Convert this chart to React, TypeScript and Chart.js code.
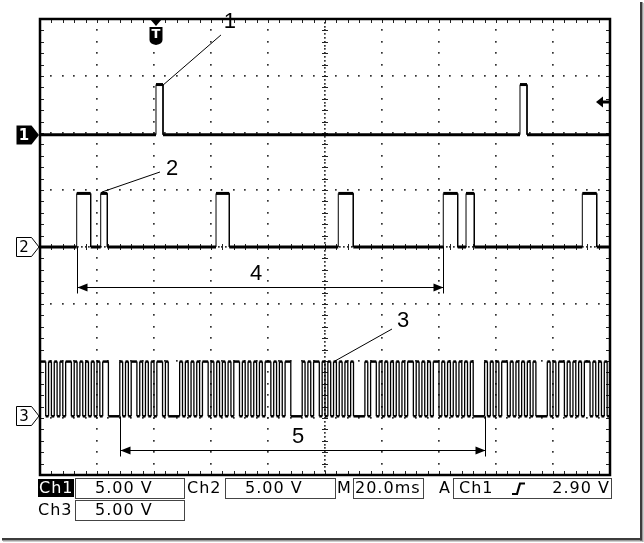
import React, { useEffect, useRef } from "react";
import { Chart, registerables } from "chart.js";

Chart.register(...registerables);

// Screen: 10 horizontal divisions (20.0 ms/div), 8 vertical divisions (5.00 V/div)
const xDivisions = 10;
const yDivisions = 8;

// Channel 1: edge times (divisions), [low, high] levels (divisions)
const ch1Edges = [2.035, 2.158, 8.421, 8.544];
const ch1Levels = [5.97, 6.85];

// Channel 2
const ch2Edges = [0.644, 0.889, 1.065, 1.181, 3.088, 3.321, 5.233, 5.496, 7.075, 7.328, 7.474, 7.619, 9.514, 9.767];
const ch2Levels = [4.0, 4.94];

// Channel 3: logic samples, one per 0.05 division (1 ms)
const ch3SampleStep = 0.05;
const ch3Bursts = [
  "110101010110101010101011", "0000",
  "10101101010101101", "0000",
  "101010101101010101011010101010110101011", "0000",
  "101011010101010101", "0000",
  "10110101010101011010101011010101010101", "0000",
  "101010110101010101", "0000",
  "1010110101010110101010",
];
const ch3Levels = [1.03, 1.99];

// Readouts
const ch1Scale = "5.00 V";
const ch2Scale = "5.00 V";
const ch3Scale = "5.00 V";
const timeScale = "20.0ms";
const trigSource = "Ch1";
const trigLevelText = "2.90 V";
const trigLevelVolts = 2.9;
const voltsPerDiv = 5;

// Annotation numbers (positions in divisions)
const annoLabels = ["1", "2", "3", "4", "5"];
const annoX = [3.33, 2.32, 6.37, 3.79, 4.53];
const annoY = [7.95, 5.37, 2.70, 3.53, 0.67];
const leaderFromX = [3.175, 2.105, 6.175];
const leaderFromY = [7.72, 5.316, 2.561];
const leaderToX = [2.158, 1.088, 5.175];
const leaderToY = [6.84, 4.965, 2.0];

// Measured spans
const span4 = [0.644, 7.075];
const span4Y = 3.3;
const span5 = [1.4, 7.8];
const span5Y = 0.44;

function stepSeries(edges: number[], levels: number[], startState = 0) {
  let s = startState;
  const pts: { x: number; y: number }[] = [{ x: 0, y: levels[s] }];
  for (const e of edges) {
    pts.push({ x: e, y: levels[s] });
    s ^= 1;
    pts.push({ x: e, y: levels[s] });
  }
  pts.push({ x: xDivisions, y: levels[s] });
  return pts;
}

function samplesToEdges(samples: string, step: number) {
  const edges: number[] = [];
  for (let i = 1; i < samples.length; i++) {
    if (samples[i] !== samples[i - 1]) edges.push(+(i * step).toFixed(4));
  }
  return edges;
}

const ch3Samples = ch3Bursts.join("");
const ch3Edges = samplesToEdges(ch3Samples, ch3SampleStep);
const ch3Start = ch3Samples[0] === "1" ? 1 : 0;

const FONT = "'DejaVu Sans', 'Liberation Sans', sans-serif";

const overlay = {
  id: "scopeOverlay",
  beforeDatasetsDraw(chart: any) {
    const { ctx, chartArea: a } = chart;
    const xs = chart.scales.x;
    const ys = chart.scales.y;
    const X = (v: number) => xs.getPixelForValue(v);
    const Y = (v: number) => ys.getPixelForValue(v);
    const minor = 0.2;
    ctx.save();
    ctx.fillStyle = "#333";
    const dot = (x: number, y: number) => ctx.fillRect(Math.round(x) - 1, Math.round(y) - 1, 1.7, 1.7);
    for (let i = 1; i < xDivisions; i++) {
      if (i === xDivisions / 2) continue;
      for (let j = 1; j < yDivisions / minor; j++) dot(X(i), Y(j * minor));
    }
    for (let j = 1; j < yDivisions; j++) {
      if (j === yDivisions / 2) continue;
      for (let i = 1; i < xDivisions / minor; i++) dot(X(i * minor), Y(j));
    }
    const cx = X(xDivisions / 2);
    const cy = Y(yDivisions / 2);
    for (let k = 1; k < (yDivisions / minor) * 3; k++) dot(cx, Y((k * minor) / 3));
    for (let k = 1; k < (xDivisions / minor) * 3; k++) dot(X((k * minor) / 3), cy);
    ctx.strokeStyle = "#222";
    ctx.lineWidth = 1;
    ctx.beginPath();
    for (let j = 1; j < yDivisions / minor; j++) {
      const y = Math.round(Y(j * minor)) + 0.5;
      ctx.moveTo(cx - 3, y);
      ctx.lineTo(cx + 3, y);
    }
    for (let i = 1; i < xDivisions / minor; i++) {
      const x = Math.round(X(i * minor)) + 0.5;
      ctx.moveTo(x, cy - 3);
      ctx.lineTo(x, cy + 3);
    }
    for (let j = 1; j < yDivisions / minor; j++) {
      const y = Math.round(Y(j * minor)) + 0.5;
      ctx.moveTo(a.left, y);
      ctx.lineTo(a.left + 4, y);
      ctx.moveTo(a.right - 4, y);
      ctx.lineTo(a.right, y);
    }
    for (let i = 1; i < xDivisions / minor; i++) {
      const x = Math.round(X(i * minor)) + 0.5;
      ctx.moveTo(x, a.top);
      ctx.lineTo(x, a.top + 4);
      ctx.moveTo(x, a.bottom - 4);
      ctx.lineTo(x, a.bottom);
    }
    ctx.stroke();
    ctx.restore();
  },
  afterDatasetsDraw(chart: any) {
    const { ctx, chartArea: a } = chart;
    const xs = chart.scales.x;
    const ys = chart.scales.y;
    const X = (v: number) => xs.getPixelForValue(v);
    const Y = (v: number) => ys.getPixelForValue(v);
    ctx.save();

    // frame
    ctx.strokeStyle = "#000";
    ctx.lineWidth = 2.5;
    ctx.strokeRect(a.left, a.top, a.right - a.left, a.bottom - a.top);

    // channel ground markers
    const marker = (label: string, yv: number, filled: boolean) => {
      const y = Math.round(Y(yv));
      ctx.beginPath();
      ctx.moveTo(16.5, y - 9.5);
      ctx.lineTo(31.5, y - 9.5);
      ctx.lineTo(a.left - 1, y);
      ctx.lineTo(31.5, y + 9.5);
      ctx.lineTo(16.5, y + 9.5);
      ctx.closePath();
      if (filled) {
        ctx.fillStyle = "#000";
        ctx.fill();
      } else {
        ctx.fillStyle = "#fff";
        ctx.fill();
        ctx.lineWidth = 1;
        ctx.strokeStyle = "#000";
        ctx.stroke();
      }
      ctx.fillStyle = filled ? "#fff" : "#000";
      ctx.font = `${filled ? "bold " : ""}15px ${FONT}`;
      ctx.textAlign = "center";
      ctx.textBaseline = "middle";
      ctx.fillText(label, 24, y + 1);
    };
    marker("1", ch1Levels[0], true);
    marker("2", ch2Levels[0], false);
    marker("3", ch3Levels[0], false);

    // trigger position marker
    const tx = Math.round(X(ch1Edges[0]));
    ctx.fillStyle = "#000";
    ctx.beginPath();
    ctx.moveTo(tx - 6, a.top);
    ctx.lineTo(tx + 6, a.top);
    ctx.lineTo(tx, a.top + 7);
    ctx.closePath();
    ctx.fill();
    ctx.beginPath();
    ctx.moveTo(tx - 6.5, a.top + 8);
    ctx.lineTo(tx + 6.5, a.top + 8);
    ctx.lineTo(tx + 6.5, a.top + 21);
    ctx.quadraticCurveTo(tx + 6.5, a.top + 25, tx, a.top + 26);
    ctx.quadraticCurveTo(tx - 6.5, a.top + 25, tx - 6.5, a.top + 21);
    ctx.closePath();
    ctx.fill();
    ctx.fillStyle = "#fff";
    ctx.font = `bold 13px ${FONT}`;
    ctx.textAlign = "center";
    ctx.textBaseline = "middle";
    ctx.fillText("T", tx, a.top + 16);

    // trigger level marker
    const ly = Math.round(Y(ch1Levels[0] + trigLevelVolts / voltsPerDiv));
    ctx.fillStyle = "#000";
    ctx.beginPath();
    ctx.moveTo(a.right - 14, ly);
    ctx.lineTo(a.right - 7, ly - 5.5);
    ctx.lineTo(a.right - 7, ly + 5.5);
    ctx.closePath();
    ctx.fill();
    ctx.fillRect(a.right - 8, ly - 1.5, 8, 3);

    // leaders
    ctx.strokeStyle = "#000";
    ctx.lineWidth = 1;
    ctx.beginPath();
    for (let i = 0; i < leaderFromX.length; i++) {
      ctx.moveTo(X(leaderFromX[i]), Y(leaderFromY[i]));
      ctx.lineTo(X(leaderToX[i]), Y(leaderToY[i]));
    }
    ctx.stroke();

    // span arrows
    const span = (x0: number, x1: number, yv: number, base: number) => {
      const p0 = Math.round(X(x0)) + 0.5;
      const p1 = Math.round(X(x1)) + 0.5;
      const y = Math.round(Y(yv)) + 0.5;
      ctx.beginPath();
      ctx.moveTo(p0, Y(base));
      ctx.lineTo(p0, y + 6);
      ctx.moveTo(p1, Y(base));
      ctx.lineTo(p1, y + 6);
      ctx.moveTo(p0, y);
      ctx.lineTo(p1, y);
      ctx.stroke();
      ctx.beginPath();
      ctx.moveTo(p0, y);
      ctx.lineTo(p0 + 10, y - 4);
      ctx.lineTo(p0 + 10, y + 4);
      ctx.closePath();
      ctx.moveTo(p1, y);
      ctx.lineTo(p1 - 10, y - 4);
      ctx.lineTo(p1 - 10, y + 4);
      ctx.closePath();
      ctx.fill();
    };
    span(span4[0], span4[1], span4Y, ch2Levels[0]);
    span(span5[0], span5[1], span5Y, ch3Levels[0]);

    // annotation numbers
    ctx.fillStyle = "#000";
    ctx.font = `22px 'Liberation Sans', Arial, sans-serif`;
    ctx.textAlign = "center";
    ctx.textBaseline = "middle";
    for (let i = 0; i < annoLabels.length; i++) {
      ctx.fillText(annoLabels[i], X(annoX[i]), Y(annoY[i]));
    }

    // status bar
    ctx.font = `16px ${FONT}`;
    (ctx as any).letterSpacing = "1px";
    ctx.textAlign = "left";
    ctx.textBaseline = "middle";
    const r1 = 488.5;
    const r2 = 511;
    ctx.fillStyle = "#000";
    ctx.fillRect(38, 479, 36, 18);
    ctx.fillStyle = "#fff";
    ctx.fillText("Ch1", 39, r1);
    ctx.fillStyle = "#000";
    ctx.strokeStyle = "#444";
    ctx.lineWidth = 1;
    ctx.strokeRect(75.5, 478.5, 109, 20);
    ctx.fillText(ch1Scale, 95, r1);
    ctx.fillText("Ch2", 187, r1);
    ctx.strokeRect(225.5, 478.5, 110, 20);
    ctx.fillText(ch2Scale, 245, r1);
    ctx.fillText("M", 337, r1);
    ctx.strokeRect(353.5, 478.5, 70, 20);
    ctx.fillText(timeScale, 355, r1);
    ctx.fillText("A", 439, r1);
    ctx.strokeRect(453.5, 478.5, 158, 20);
    ctx.fillText(trigSource, 459, r1);
    ctx.textAlign = "right";
    ctx.fillText(trigLevelText, 610, r1);
    ctx.textAlign = "left";
    ctx.lineWidth = 2.2;
    ctx.strokeStyle = "#000";
    ctx.beginPath();
    ctx.moveTo(512, 494);
    ctx.lineTo(517, 494);
    ctx.lineTo(520, 483.5);
    ctx.lineTo(525, 483.5);
    ctx.stroke();
    ctx.lineWidth = 1;
    ctx.strokeStyle = "#444";
    ctx.fillText("Ch3", 38, r2);
    ctx.strokeRect(75.5, 500.5, 109, 20);
    ctx.fillText(ch3Scale, 95, r2);
    (ctx as any).letterSpacing = "0px";

    // page shadow
    ctx.fillStyle = "#3c3c3c";
    ctx.fillRect(640, 2, 2.5, 539);
    ctx.fillRect(2, 538, 640, 2.5);
    ctx.fillStyle = "#9a9a9a";
    ctx.fillRect(642.5, 3, 1, 539);
    ctx.fillRect(3, 540.5, 640, 1);

    ctx.restore();
  },
};

export default function App() {
  const ref = useRef<HTMLCanvasElement>(null);
  useEffect(() => {
    const canvas = ref.current!;
    const seg = (w: number, v: number) => (c: any) => (Math.abs(c.p0.x - c.p1.x) < 0.01 ? v : w);
    const chart = new Chart(canvas, {
      type: "line",
      data: {
        datasets: [
          { label: "Ch1", data: stepSeries(ch1Edges, ch1Levels), borderColor: "#000", borderWidth: 3, pointRadius: 0, segment: { borderWidth: seg(3, 1) } as any },
          { label: "Ch2", data: stepSeries(ch2Edges, ch2Levels), borderColor: "#000", borderWidth: 3, pointRadius: 0, segment: { borderWidth: seg(3, 1) } as any },
          { label: "Ch3", data: stepSeries(ch3Edges, ch3Levels, ch3Start), borderColor: "#000", borderWidth: 2.5, pointRadius: 0, segment: { borderWidth: seg(2.5, 1.3) } as any },
        ],
      },
      options: {
        animation: false,
        responsive: false,
        devicePixelRatio: 1,
        layout: { padding: { left: 40, top: 19, right: 34, bottom: 68 } },
        scales: {
          x: { type: "linear", min: 0, max: xDivisions, display: false },
          y: { type: "linear", min: 0, max: yDivisions, display: false },
        },
        plugins: { legend: { display: false }, tooltip: { enabled: false } },
        elements: { point: { radius: 0 } },
      },
      plugins: [overlay as any],
    });
    return () => chart.destroy();
  }, []);
  return (
    <div style={{ position: "absolute", left: 0, top: 0, width: 644, height: 543, background: "#fff" }}>
      <canvas ref={ref} width={644} height={543} style={{ display: "block" }} />
    </div>
  );
}
